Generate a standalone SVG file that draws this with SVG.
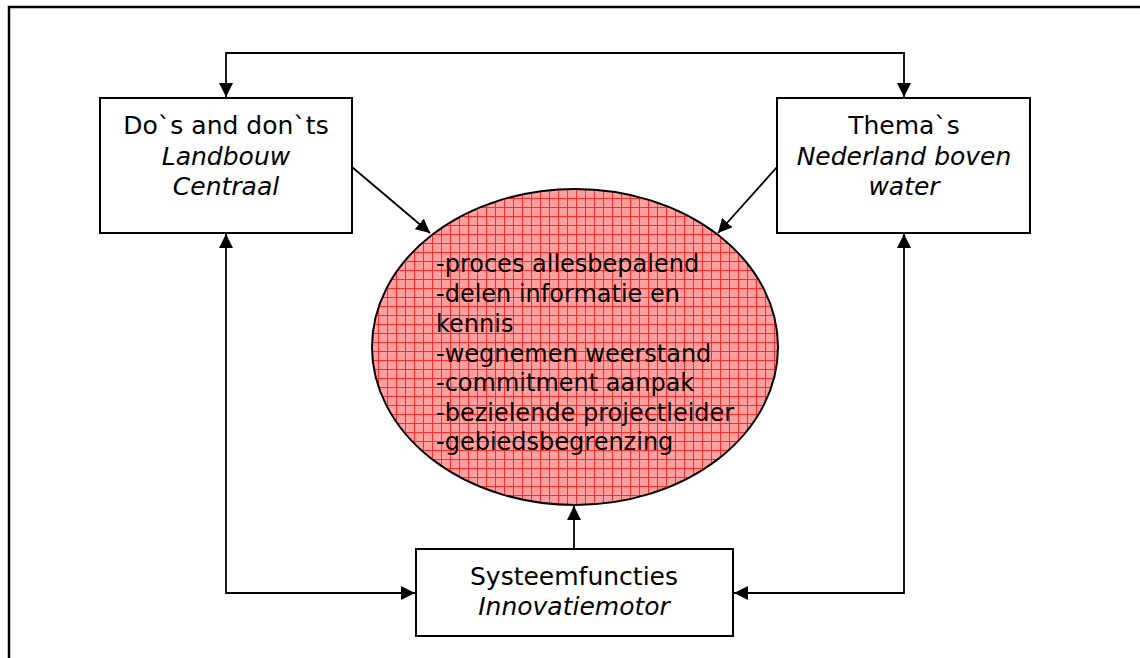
<svg xmlns="http://www.w3.org/2000/svg" width="1140" height="658" viewBox="0 0 1140 658">
<style>
.box{fill:#fff;stroke:#000;stroke-width:2}
.t{font-family:"DejaVu Sans",Verdana,sans-serif;font-size:25px;fill:#000}
.e{font-size:24px}
.c{text-anchor:middle}
.i{font-style:italic}
.ln{fill:none;stroke:#000;stroke-width:1.8}
</style>
<defs>
<pattern id="grid" width="9" height="9" patternUnits="userSpaceOnUse">
<rect width="9" height="9" fill="#ffa0a0"/>
<path d="M0 0.5H9M0.5 0V9" stroke="#ff2a2a" stroke-width="1"/>
</pattern>
<marker id="ah" viewBox="0 0 14 14" refX="14" refY="7" markerWidth="14" markerHeight="14" markerUnits="userSpaceOnUse" orient="auto-start-reverse">
<path d="M0 0L14 7L0 14Z" fill="#000"/>
</marker>
</defs>
<g id="frame">
<path d="M9 658V7H1140" fill="none" stroke="#000" stroke-width="2.5"/>
</g>
<g id="connectors">
<path class="ln" d="M226 97V53H904V97" marker-start="url(#ah)" marker-end="url(#ah)"/>
<path class="ln" d="M226 234V593H415" marker-start="url(#ah)" marker-end="url(#ah)"/>
<path class="ln" d="M904 234V593H734" marker-start="url(#ah)" marker-end="url(#ah)"/>
<path class="ln" d="M574 548V506" marker-end="url(#ah)"/>
<path class="ln" d="M352 167L430 233" marker-end="url(#ah)"/>
<path class="ln" d="M777 167L718 233" marker-end="url(#ah)"/>
</g>
<g id="node-center">
<ellipse cx="575" cy="347" rx="203" ry="158" fill="url(#grid)" stroke="#000" stroke-width="2"/>
<text class="t e" x="436" y="272">-proces allesbepalend</text>
<text class="t e" x="436" y="302">-delen informatie en</text>
<text class="t e" x="436" y="332">kennis</text>
<text class="t e" x="436" y="362">-wegnemen weerstand</text>
<text class="t e" x="436" y="391">-commitment aanpak</text>
<text class="t e" x="436" y="421">-bezielende projectleider</text>
<text class="t e" x="436" y="450">-gebiedsbegrenzing</text>
</g>
<g id="node-dos">
<rect class="box" x="100" y="98" width="252" height="135"/>
<text class="t c" x="226" y="134">Do`s and don`ts</text>
<text class="t c i" x="226" y="165">Landbouw</text>
<text class="t c i" x="226" y="195">Centraal</text>
</g>
<g id="node-themas">
<rect class="box" x="777" y="98" width="253" height="135"/>
<text class="t c" x="904" y="134">Thema`s</text>
<text class="t c i" x="904" y="165">Nederland boven</text>
<text class="t c i" x="904" y="195">water</text>
</g>
<g id="node-systeem">
<rect class="box" x="416" y="549" width="317" height="87"/>
<text class="t c" x="574" y="585">Systeemfuncties</text>
<text class="t c i" x="574" y="615">Innovatiemotor</text>
</g>
</svg>
